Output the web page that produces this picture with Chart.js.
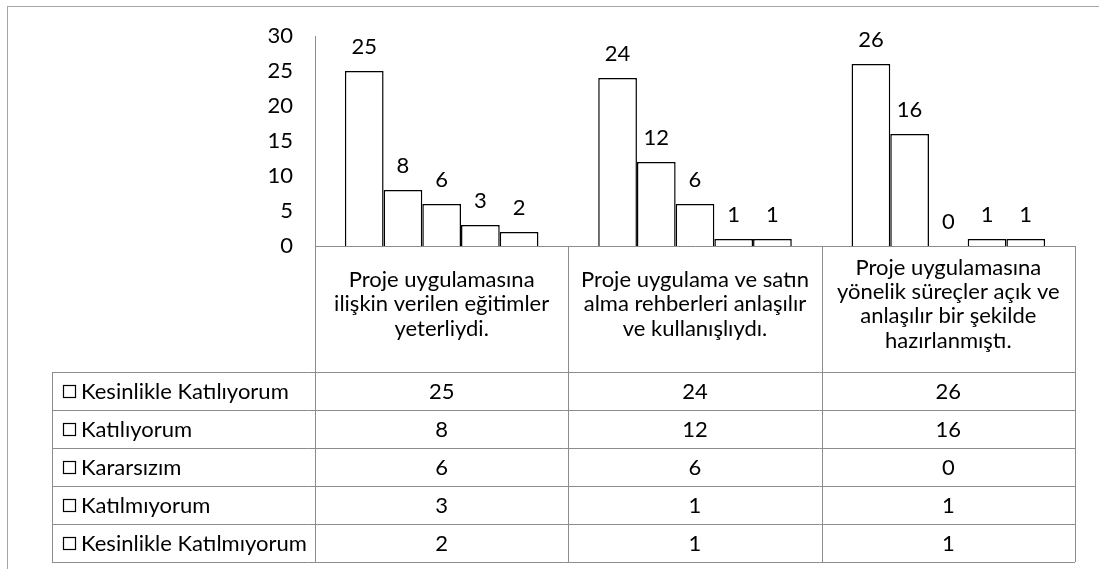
<!DOCTYPE html>
<html>
<head>
<meta charset="utf-8">
<script src="https://cdn.jsdelivr.net/npm/chart.js@4/dist/chart.umd.min.js"></script>
<style>
  body { margin: 0; background: #fff; }
  #wrap { width: 1099px; height: 569px; }
</style>
</head>
<body>
<div id="wrap"><canvas id="chart" width="1099" height="569"></canvas></div>
<script>
// Datos del gráfico
const categories = [
    ['Proje uygulamasına', 'ilişkin verilen eğitimler', 'yeterliydi.'],
    ['Proje uygulama ve satın', 'alma rehberleri anlaşılır', 've kullanışlıydı.'],
    ['Proje uygulamasına', 'yönelik süreçler açık ve', 'anlaşılır bir şekilde', 'hazırlanmıştı.']
];
const seriesNames = [
    'Kesinlikle Katılıyorum',
    'Katılıyorum',
    'Kararsızım',
    'Katılmıyorum',
    'Kesinlikle Katılmıyorum'
];
const kesinlikleKatiliyorum = [25, 24, 26];
const katiliyorum = [8, 12, 16];
const kararsizim = [6, 6, 0];
const katilmiyorum = [3, 1, 1];
const kesinlikleKatilmiyorum = [2, 1, 1];
const seriesValues = [kesinlikleKatiliyorum, katiliyorum, kararsizim, katilmiyorum, kesinlikleKatilmiyorum];
const yTicks = { min: 0, max: 30, step: 5 };

const FONT = { family: 'Lato', size: 22, lineHeight: 1.1 };
const LINE_GRAY = '#8c8c8c';
const TABLE_LEFT = 52;
const ROW_H = 38;

// Marco exterior del gráfico
const framePlugin = {
    id: 'frame',
    beforeDraw(chart) {
        const ctx = chart.ctx;
        ctx.save();
        ctx.strokeStyle = '#a6a6a6';
        ctx.lineWidth = 1;
        ctx.strokeRect(7.5, 6.5, chart.width + 20, chart.height + 20);
        ctx.restore();
    }
};

// Etiquetas de valor encima de cada barra
const valueLabelPlugin = {
    id: 'valueLabels',
    afterDatasetsDraw(chart) {
        const ctx = chart.ctx;
        ctx.save();
        ctx.font = FONT.size + 'px ' + FONT.family;
        ctx.fillStyle = '#000';
        ctx.textAlign = 'center';
        ctx.textBaseline = 'bottom';
        chart.data.datasets.forEach((ds, i) => {
            chart.getDatasetMeta(i).data.forEach((bar, j) => {
                ctx.fillText(String(ds.data[j]), bar.x, bar.y - 13);
            });
        });
        ctx.restore();
    }
};

// Tabla de datos debajo del eje X
const dataTablePlugin = {
    id: 'dataTable',
    afterDraw(chart) {
        const ctx = chart.ctx;
        const area = chart.chartArea;
        const xScale = chart.scales.x;
        const headerBottom = xScale.bottom;
        const nRows = chart.data.datasets.length;
        const tableBottom = headerBottom + nRows * ROW_H;
        const colW = (area.right - area.left) / chart.data.labels.length;

        ctx.save();
        ctx.strokeStyle = LINE_GRAY;
        ctx.lineWidth = 1;
        ctx.beginPath();
        // líneas horizontales de las filas
        for (let r = 0; r <= nRows; r++) {
            const y = Math.round(headerBottom + r * ROW_H) + 0.5;
            ctx.moveTo(TABLE_LEFT, y);
            ctx.lineTo(area.right, y);
        }
        // borde izquierdo de la columna de leyenda
        ctx.moveTo(TABLE_LEFT + 0.5, headerBottom);
        ctx.lineTo(TABLE_LEFT + 0.5, tableBottom);
        // separadores de columnas
        for (let c = 0; c <= chart.data.labels.length; c++) {
            const x = Math.round(area.left + c * colW) + 0.5;
            ctx.moveTo(x, area.bottom);
            ctx.lineTo(x, tableBottom);
        }
        ctx.stroke();

        ctx.font = FONT.size + 'px ' + FONT.family;
        ctx.fillStyle = '#000';
        ctx.textBaseline = 'middle';
        chart.data.datasets.forEach((ds, i) => {
            const yMid = headerBottom + i * ROW_H + ROW_H / 2;
            // clave de leyenda (cuadro blanco con borde)
            ctx.strokeStyle = '#000';
            ctx.lineWidth = 1.2;
            ctx.strokeRect(63.5, Math.round(yMid - 6) + 0.5, 12, 12);
            ctx.textAlign = 'left';
            ctx.fillText(ds.label, 81, yMid + 1);
            ctx.textAlign = 'center';
            ds.data.forEach((v, j) => {
                ctx.fillText(String(v), xScale.getPixelForValue(j), yMid + 1);
            });
        });
        ctx.restore();
    }
};

const palette = { fill: '#ffffff', border: '#000000' };

new Chart(document.getElementById('chart').getContext('2d'), {
    type: 'bar',
    data: {
        labels: categories,
        datasets: seriesNames.map((name, i) => ({
            label: name,
            data: seriesValues[i],
            backgroundColor: palette.fill,
            borderColor: palette.border,
            borderWidth: 1.5,
            categoryPercentage: 0.764,
            barPercentage: 1.0
        }))
    },
    options: {
        responsive: false,
        animation: false,
        layout: { padding: { top: 36, right: 24, bottom: 197, left: 0 } },
        scales: {
            x: {
                grid: { display: false, drawTicks: false },
                border: { display: true, color: LINE_GRAY, width: 1 },
                ticks: {
                    color: '#000',
                    font: FONT,
                    padding: 22,
                    crossAlign: 'center',
                    maxRotation: 0,
                    autoSkip: false
                },
                afterFit: (s) => { s.height = 126; }
            },
            y: {
                min: yTicks.min,
                max: yTicks.max,
                grid: { display: false, drawTicks: false },
                border: { display: true, color: LINE_GRAY, width: 1 },
                ticks: { stepSize: yTicks.step, color: '#000', font: FONT, padding: 22 },
                afterFit: (s) => { s.width = 315; }
            }
        },
        plugins: {
            legend: { display: false },
            tooltip: { enabled: false }
        }
    },
    plugins: [framePlugin, valueLabelPlugin, dataTablePlugin]
});
</script>
</body>
</html>
